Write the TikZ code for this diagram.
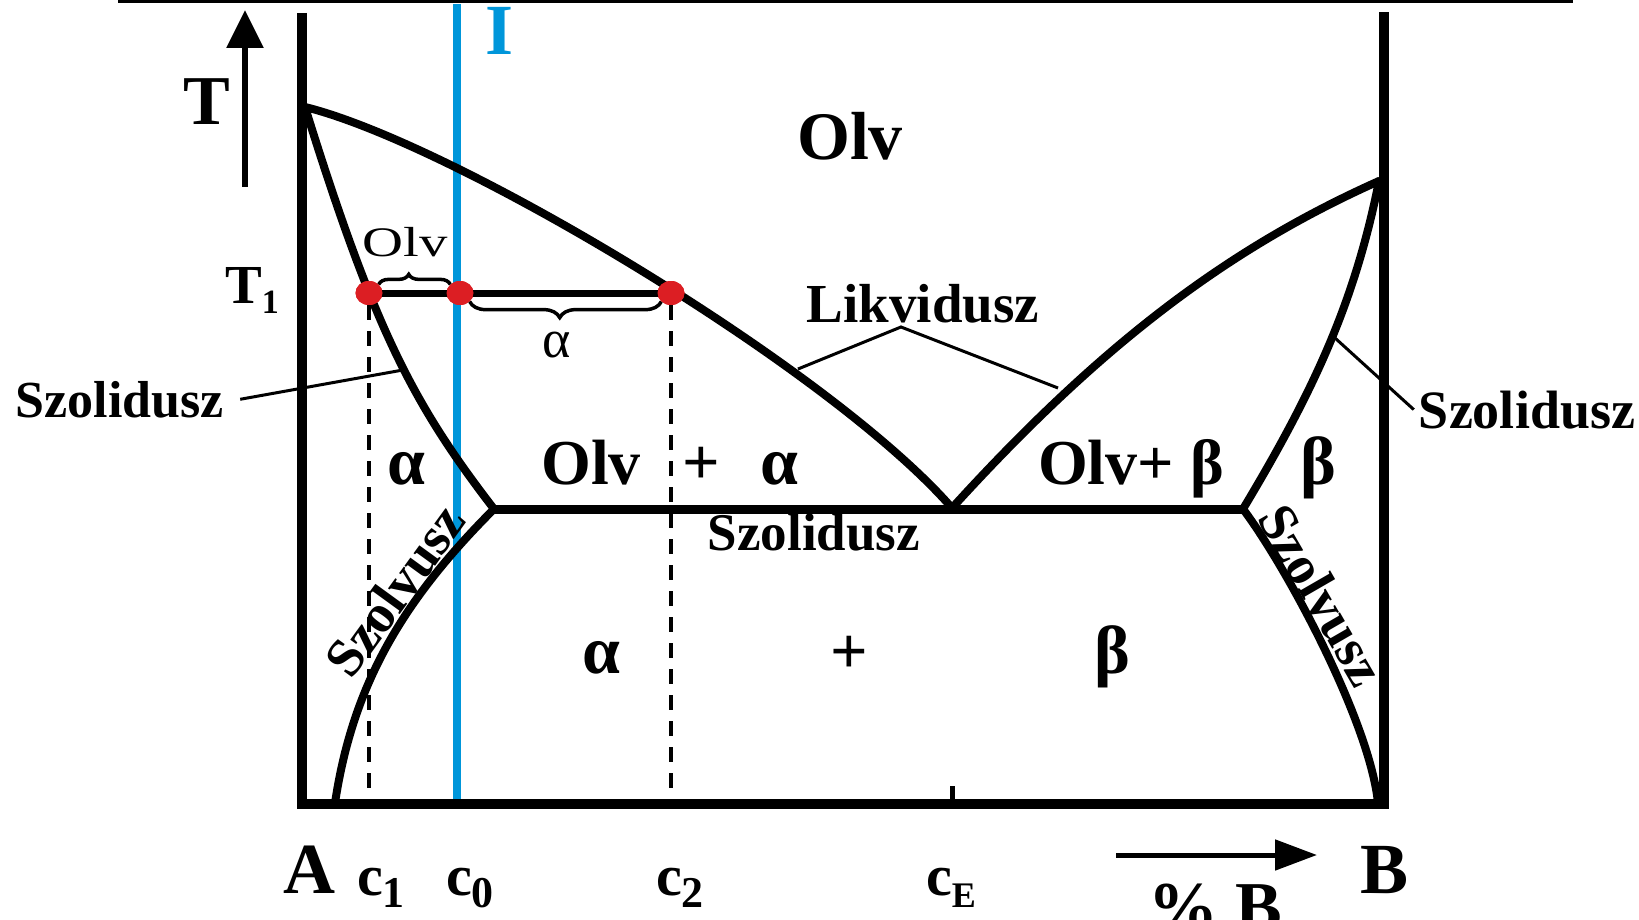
\documentclass[tikz,border=0pt]{standalone}
\usepackage{fontspec}
\setmainfont{Liberation Serif}
\usetikzlibrary{arrows.meta,decorations.pathreplacing,shapes.geometric}
\definecolor{tieblue}{RGB}{0,150,218}
\definecolor{dotred}{RGB}{220,30,35}
\newcommand\lowidx[3]{{\fontsize{#1}{#1}\selectfont\raisebox{-#2}{#3}}}
\begin{document}
\begin{tikzpicture}[x=1pt,y=-1pt,
  axisln/.style={line width=10pt},
  phase/.style={line width=8pt,line cap=round},
  lead/.style={line width=3pt},
  dashln/.style={line width=4pt,dash pattern=on 15pt off 11pt},
  dot/.style={ellipse,fill=dotred,minimum width=27pt,minimum height=24pt,inner sep=0pt},
  brc/.style={line width=3.5pt,decorate,decoration={brace,amplitude=#1}},
  bf/.style={font=\fontsize{#1}{#1}\selectfont\bfseries,inner sep=0pt,anchor=base},
  rm/.style={font=\fontsize{#1}{#1}\selectfont,inner sep=0pt,anchor=base}]
  \useasboundingbox (0,0) rectangle (1639,920);
  % frame and top rule
  \draw[line width=6pt] (118,0) -- (1573,0);
  \draw[axisln] (302,13) -- (302,804) -- (1384,804) -- (1384,12);
  \draw[line width=5pt] (952,786) -- (952,800);
  % alloy line I
  \coordinate (itop) at (457,4); \coordinate (ibot) at (457,799);
  \draw[line width=8pt,tieblue] (itop) -- (ibot);
  \node[bf=72,text=tieblue] (I) at (500,55) {I};
  % phase boundaries
  \coordinate (mA) at (305,107); \coordinate (mB) at (1379,181);
  \coordinate (eu) at (952,508); \coordinate (ea) at (494,509); \coordinate (eb) at (1243,509);
  \draw[phase] (mA) .. controls (455,144) and (832,370) .. (eu);
  \draw[phase] (eu) .. controls (1102,343) and (1229,248) .. (mB);
  \draw[phase] (mA) .. controls (375,332) and (414,405) .. (ea);
  \draw[phase] (ea) .. controls (404,599) and (353,683) .. (335,803);
  \draw[phase] (mB) .. controls (1355,301) and (1315,389) .. (eb);
  \draw[phase] (eb) .. controls (1288,569) and (1370,723) .. (1378,803);
  \draw[line width=9pt] (ea) -- (eb);
  % tie line at T1
  \node[dot] (d1) at (369,293) {};
  \node[dot] (d2) at (460,293) {};
  \node[dot] (d3) at (671,293) {};
  \coordinate (bl) at (0,800);
  \draw[dashln] (d1) -- (d1 |- bl);
  \draw[dashln] (d3) -- (d3 |- bl);
  \draw[line width=7pt] (d1.center) -- (d3.center);
  \node[dot] at (d1) {}; \node[dot] at (d2) {}; \node[dot] at (d3) {};
  \draw[brc=10pt,decoration={aspect=0.42}] (d1.north east) -- (d2.north west);
  \draw[brc=16pt,decoration={mirror,aspect=0.47}] (d2.south east) -- (d3.south west);
  \node[rm=42] (olvs) at (405,257) {\scalebox{1.35}[1]{Olv}};
  \node[rm=54] (als) at (557,357) {α};
  % axis labels
  \coordinate (tlo) at (245,187); \coordinate (thi) at (245,10);
  \draw[line width=6pt,-{Triangle[length=38pt,width=36pt]}] (tlo) -- (thi);
  \node[bf=70] (T) at (207,125) {T};
  \node[bf=55,anchor=base west] (T1) at (225,303) {T\lowidx{34}{10pt}{1}};
  \node[bf=72,anchor=base west] (A) at (283,893) {A};
  \node[bf=58,anchor=base west] (c1) at (357,895) {c\lowidx{44}{12pt}{1}};
  \node[bf=58,anchor=base west] (c0) at (446,895) {c\lowidx{44}{12pt}{0}};
  \node[bf=58,anchor=base west] (c2) at (656,895) {c\lowidx{44}{12pt}{2}};
  \node[bf=58,anchor=base west] (cE) at (926,895) {c\lowidx{36}{12pt}{E}};
  \node[bf=72,anchor=base west] (B) at (1360,893) {B};
  \node[bf=70,anchor=base west] (pB) at (1148,930) {\% B};
  \coordinate (pa) at (1116,855); \coordinate (pb) at (1317,855);
  \draw[line width=5pt,-{Triangle[length=42pt,width=30pt]}] (pa) -- (pb);
  % region labels
  \node[bf=68] (olv) at (850,160) {Olv};
  \node[bf=68] (al1) at (406,484) {α};
  \node[bf=64] (ol1) at (591,484) {Olv};
  \node[bf=66] (pl1) at (701,484) {+};
  \node[bf=68] (al2) at (779,484) {α};
  \node[bf=64] (olb) at (1131,484) {Olv+ β};
  \node[bf=68] (be1) at (1318,484) {β};
  \node[bf=68] (al3) at (601,673) {α};
  \node[bf=66] (pl2) at (849,673) {+};
  \node[bf=68] (be2) at (1112,673) {β};
  % line names
  \node[bf=52] (szl) at (120,417) {Szolidusz};
  \node[bf=55] (lik) at (923,322) {Likvidusz};
  \node[bf=54] (szr) at (1527,428) {Szolidusz};
  \node[bf=53] (szm) at (814,550) {Szolidusz};
  \node[bf=54,anchor=center,rotate=54] (svl) at (395,590) {Szolvusz};
  \node[bf=54,anchor=center,rotate=-60] (svr) at (1322,595) {Szolvusz};
  \coordinate (sl) at (403,370);
  \coordinate (lk) at (901,327); \coordinate (ll) at (798,369); \coordinate (lr) at (1058,388);
  \coordinate (sr) at (1335,338);
  \draw[lead] ([xshift=16pt]szl.east) -- (sl);
  \draw[lead] (ll) -- (lk) -- (lr);
  \draw[lead] ([xshift=-5pt]szr.west) -- (sr);
\end{tikzpicture}
\end{document}
